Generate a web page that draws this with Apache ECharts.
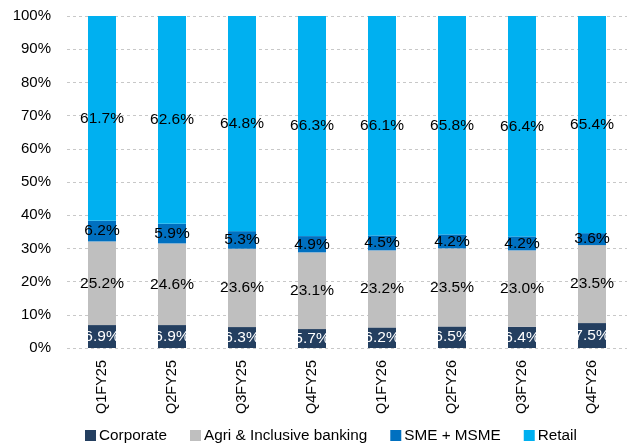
<!DOCTYPE html>
<html>
<head>
<meta charset="utf-8">
<script src="https://cdn.jsdelivr.net/npm/echarts@6/dist/echarts.min.js"></script>
<style>
  html, body { margin: 0; padding: 0; background: #fff; }
  #chart { width: 636px; height: 446px; }
</style>
</head>
<body>
<div id="chart"></div>
<script>
// Quarterly loan-book mix, % share by segment
const quarters = ['Q1FY25', 'Q2FY25', 'Q3FY25', 'Q4FY25', 'Q1FY26', 'Q2FY26', 'Q3FY26', 'Q4FY26'];
const corporate = [6.9, 6.9, 6.3, 5.7, 6.2, 6.5, 6.4, 7.5];
const agriInclusive = [25.2, 24.6, 23.6, 23.1, 23.2, 23.5, 23.0, 23.5];
const smeMsme = [6.2, 5.9, 5.3, 4.9, 4.5, 4.2, 4.2, 3.6];
const retail = [61.7, 62.6, 64.8, 66.3, 66.1, 65.8, 66.4, 65.4];

const FONT = 'Liberation Sans, Arial, sans-serif';

function seg(name, data, color, labelColor) {
  return {
    name: name,
    type: 'bar',
    stack: 'mix',
    barWidth: 28,
    data: data,
    itemStyle: { color: color },
    label: {
      show: true,
      position: 'inside',
      color: labelColor,
      fontFamily: FONT,
      fontSize: 15.5,
      formatter: p => p.value.toFixed(1) + '%'
    }
  };
}

const chart = echarts.init(document.getElementById('chart'), null, { renderer: 'canvas' });
chart.setOption({
  animation: false,
  grid: { left: 67, right: 9, top: 16, bottom: 98 },
  legend: {
    left: 85,
    top: 428,
    padding: 0,
    itemWidth: 11,
    itemHeight: 11,
    itemGap: 23,
    icon: 'rect',
    textStyle: { fontFamily: FONT, fontSize: 15.3, color: '#000', padding: [0, 0, 0, -2] },
    data: ['Corporate', 'Agri & Inclusive banking', 'SME + MSME', 'Retail']
  },
  xAxis: {
    type: 'category',
    data: quarters,
    axisLine: { show: false },
    axisTick: { show: false },
    axisLabel: { rotate: 90, margin: 12, color: '#000', fontFamily: FONT, fontSize: 14.5 }
  },
  yAxis: {
    type: 'value',
    min: 0,
    max: 100,
    interval: 10,
    axisLine: { show: false },
    axisTick: { show: false },
    axisLabel: { formatter: '{value}%', margin: 16, color: '#000', fontFamily: FONT, fontSize: 15 },
    splitLine: { lineStyle: { color: '#c8c8c8', type: [3, 3], width: 1 } }
  },
  series: [
    seg('Corporate', corporate, '#243f60', '#fff'),
    seg('Agri & Inclusive banking', agriInclusive, '#bfbfbf', '#000'),
    seg('SME + MSME', smeMsme, '#0070c0', '#000'),
    seg('Retail', retail, '#00b0f0', '#000')
  ]
});
</script>
</body>
</html>
